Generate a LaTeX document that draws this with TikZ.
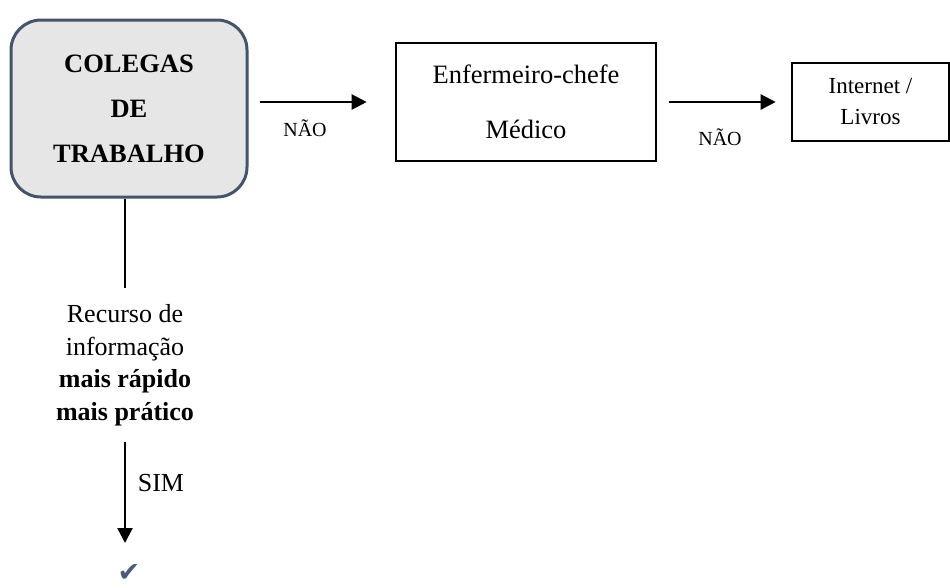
\documentclass[tikz,border=0pt]{standalone}
\usepackage{fontspec}
\setmainfont{Liberation Serif}
\newfontfamily\symfont{DejaVu Sans}
\usetikzlibrary{arrows.meta}
\definecolor{boxgray}{HTML}{E6E6E6}
\definecolor{slateedge}{HTML}{44546A}
\definecolor{tickblue}{HTML}{4A5A7A}
\begin{document}
\begin{tikzpicture}[x=1pt,y=-1pt,
  flowarrow/.style={line width=2.3pt,-{Triangle[length=15pt,width=15pt]}},
  plainbox/.style={draw,line width=2.6pt,inner sep=0pt,align=center},
  edgelabel/.style={inner sep=0pt,font=\fontsize{20}{24}\selectfont}]
\useasboundingbox (0,0) rectangle (950,587);

% source box
\node[draw=slateedge,fill=boxgray,line width=3pt,rounded corners=30pt,
      minimum width=236pt,minimum height=177pt,inner sep=0pt,align=center,
      font=\fontsize{26.5}{45}\selectfont\bfseries]
  (col) at (129,108.5) {COLEGAS\\DE\\TRABALHO};

% second-level box
\node[plainbox,minimum width=260pt,minimum height=118pt,
      font=\fontsize{26.5}{55}\selectfont]
  (enf) at (526,102) {Enfermeiro-chefe\\Médico};

% third-level box
\node[plainbox,minimum width=157pt,minimum height=78pt,
      font=\fontsize{23}{31}\selectfont]
  (net) at (870.5,102) {Internet /\\Livros};

% horizontal NÃO arrows
\draw[flowarrow] ([xshift=11pt]col.east |- enf.west) -- ([xshift=-28pt]enf.west);
\node[edgelabel] (nao1) at (305,128) {NÃO};
\draw[flowarrow] ([xshift=12pt]enf.east) -- ([xshift=-15pt]net.west);
\node[edgelabel] (nao2) at (720,137) {NÃO};

% downward branch
\coordinate (lineend) at (125,288);
\draw[line width=1.3pt] (col.south -| lineend) -- (lineend);
\node[inner sep=0pt,align=center,font=\fontsize{26}{32.5}\selectfont]
  (rec) at (125,365) {Recurso de\\informação\\\textbf{mais rápido}\\\textbf{mais prático}};
\node[inner sep=0pt,font=\symfont\fontsize{27}{28}\selectfont,text=tickblue]
  (tick) at (129,573) {✔};
\draw[flowarrow] (125,442) -- (125,543);
\node[inner sep=0pt,font=\fontsize{26}{28}\selectfont] (sim) at (161,483) {SIM};
\end{tikzpicture}
\end{document}
